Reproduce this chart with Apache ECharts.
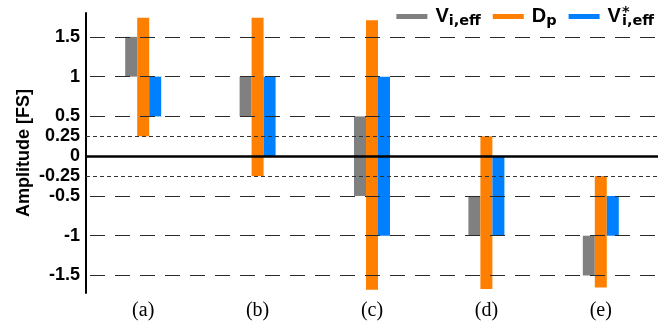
<!DOCTYPE html>
<html>
<head>
<meta charset="utf-8">
<script src="https://cdn.jsdelivr.net/npm/echarts@6/dist/echarts.min.js"></script>
<style>
  html, body { margin: 0; padding: 0; background: #fff; }
  #chart { width: 670px; height: 328px; }
</style>
</head>
<body>
<div id="chart"></div>
<script>
// Cases along the horizontal axis
const categories = ['(a)', '(b)', '(c)', '(d)', '(e)'];
const seriesNames = ['Vi,eff', 'Dp', 'V*i,eff'];

// Each quantity is a floating range [low, high] per case
const vEffLow   = [1, 0.5, -0.5, -1, -1.5];
const vEffHigh  = [1.5, 1, 0.5, -0.5, -1];
const dpLow     = [0.25, -0.25, -1.68, -1.67, -1.65];
const dpHigh    = [1.74, 1.74, 1.71, 0.25, -0.25];
const vStarLow  = [0.5, 0, -1, -1, -1];
const vStarHigh = [1, 1, 1, 0, -0.5];

// Amplitude levels that get a tick label / reference line
const yTicks = [1.5, 1, 0.5, 0.25, 0, -0.25, -0.5, -1, -1.5];
const majorLevels = [1.5, 1, 0.5, -0.5, -1, -1.5];
const minorLevels = [0.25, -0.25];

const colors = ['#808080', '#FF8000', '#0080FF'];
const BAR_W = 12;

// A floating bar = transparent base up to `low`, then a visible segment of height (high - low)
function rangeSeries(name, low, high, color, stackId) {
  const common = { type: 'bar', stack: stackId, stackStrategy: 'all', barWidth: BAR_W, barGap: 0 };
  return [
    Object.assign({}, common, {
      name: name + ' base',
      data: low,
      itemStyle: { color: 'rgba(0,0,0,0)' },
      silent: true,
      emphasis: { disabled: true }
    }),
    Object.assign({}, common, {
      name: name,
      data: high.map((h, i) => +(h - low[i]).toFixed(4)),
      itemStyle: { color: color }
    })
  ];
}

const dashLine = { color: '#2a2a2a', width: 1.2, type: [15, 10], dashOffset: 21 };
const dotLine  = { color: '#333', width: 1, type: [4, 3] };
const zeroLine = { color: '#000', width: 2.5, type: 'solid' };

const refLines = []
  .concat(majorLevels.map(v => ({ yAxis: v, lineStyle: dashLine })))
  .concat(minorLevels.map(v => ({ yAxis: v, lineStyle: dotLine })))
  .concat([{ yAxis: 0, lineStyle: zeroLine }]);

const series = []
  .concat(rangeSeries(seriesNames[0], vEffLow, vEffHigh, colors[0], 'g'))
  .concat(rangeSeries(seriesNames[1], dpLow, dpHigh, colors[1], 'o'))
  .concat(rangeSeries(seriesNames[2], vStarLow, vStarHigh, colors[2], 'b'));

series[0].markLine = {
  silent: true,
  symbol: 'none',
  label: { show: false },
  emphasis: { disabled: true },
  data: refLines
};

const legendText = {
  'Vi,eff': '{m|V}{s|i,eff}',
  'Dp': '{m|D}{s|p}',
  'V*i,eff': '{m|V}{st|*}{s|i,eff}'
};

const chart = echarts.init(document.getElementById('chart'), null, { renderer: 'canvas' });
chart.setOption({
  animation: false,
  backgroundColor: '#fff',
  color: colors,
  grid: { left: 86, right: 12, top: 13, bottom: 35 },
  legend: {
    data: seriesNames,
    top: 0,
    right: 11,
    icon: 'rect',
    itemWidth: 31,
    itemHeight: 5,
    itemGap: 12,
    formatter: name => legendText[name],
    textStyle: {
      rich: {
        m: { fontFamily: 'Liberation Sans', fontWeight: 'bold', fontSize: 20, color: '#000', lineHeight: 24, padding: [0, 0, 0, 3] },
        s: { fontFamily: 'DejaVu Sans', fontWeight: 'bold', fontSize: 14.5, color: '#000', padding: [10, 0, 0, 0] },
        st: { fontFamily: 'DejaVu Sans', fontWeight: 'bold', fontSize: 14.5, color: '#000', width: 0, padding: [0, 0, 8, 1] }
      }
    }
  },
  xAxis: {
    type: 'category',
    data: categories,
    axisLine: { show: false },
    axisTick: { show: false },
    axisLabel: { fontFamily: 'Liberation Serif', fontSize: 20, color: '#000', margin: 8 },
    splitLine: { show: false }
  },
  yAxis: {
    type: 'value',
    min: -1.72,
    max: 1.8,
    name: 'Amplitude [FS]',
    nameLocation: 'middle',
    nameGap: 53,
    nameMoveOverlap: false,
    nameTextStyle: { fontFamily: 'Liberation Sans', fontWeight: 'bold', fontSize: 18, color: '#000' },
    axisLine: { show: true, lineStyle: { color: '#000', width: 2 } },
    axisTick: { show: false },
    splitLine: { show: false },
    axisLabel: {
      customValues: yTicks,
      formatter: v => String(v),
      fontFamily: 'Liberation Sans',
      fontWeight: 'bold',
      fontSize: 18,
      color: '#000',
      margin: 6
    }
  },
  series: series
});
</script>
</body>
</html>
